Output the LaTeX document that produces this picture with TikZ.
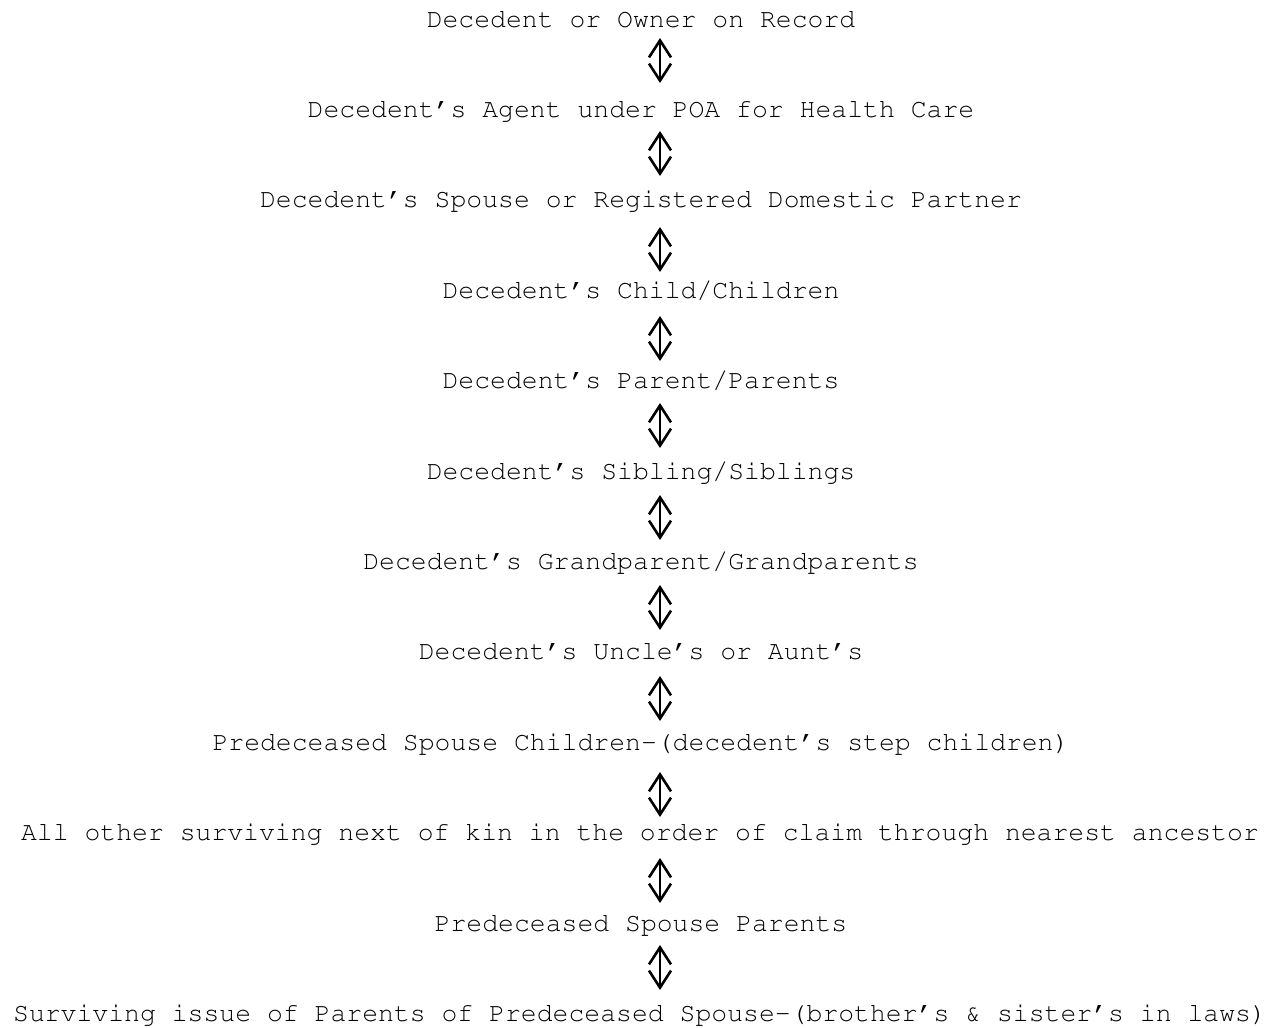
\documentclass[tikz,border=0pt]{standalone}
\usepackage[T1]{fontenc}
\usepackage{courier}
\renewcommand{\rmdefault}{pcr}
\usetikzlibrary{arrows.meta}
\begin{document}
\begin{tikzpicture}[x=1pt,y=-1pt,
  lbl/.style={anchor=base, inner sep=0pt, font=\rmfamily\fontsize{26.45}{30}\selectfont},
  dar/.style={line width=2.6pt, black,
    {Straight Barb[length=17pt,width=22pt,line width=2.6pt]}-{Straight Barb[length=17pt,width=22pt,line width=2.6pt]}}]
\useasboundingbox[fill=white] (0,0) rectangle (1278,1028);
\node[lbl] (r1)  at (641,27)     {Decedent or Owner on Record};
\node[lbl] (r2)  at (641,117.4)  {Decedent's Agent under POA for Health Care};
\node[lbl] (r3)  at (641,207.8)  {Decedent's Spouse or Registered Domestic Partner};
\node[lbl] (r4)  at (641,298.2)  {Decedent's Child/Children};
\node[lbl] (r5)  at (641,388.6)  {Decedent's Parent/Parents};
\node[lbl] (r6)  at (641,479)    {Decedent's Sibling/Siblings};
\node[lbl] (r7)  at (641,569.4)  {Decedent's Grandparent/Grandparents};
\node[lbl] (r8)  at (641,659.8)  {Decedent's Uncle's or Aunt's};
\node[lbl] (r9)  at (641,750.2)  {Predeceased Spouse Children-(decedent's step children)};
\node[lbl] (r10) at (640,840.6)  {All other surviving next of kin in the order of claim through nearest ancestor};
\node[lbl] (r11) at (641,931)    {Predeceased Spouse Parents};
\node[lbl] (r12) at (640,1021.4) {Surviving issue of Parents of Predeceased Spouse-(brother's \& sister's in laws)};
\foreach \i/\t in {1/38,2/131,3/227,4/316,5/403,6/495,7/585,8/676,9/772,10/858,11/945}{
  \coordinate (a\i) at (660,\t);
  \coordinate (b\i) at (660,\t+45);
  \draw[dar] (a\i) -- (b\i);
}
\end{tikzpicture}
\end{document}
